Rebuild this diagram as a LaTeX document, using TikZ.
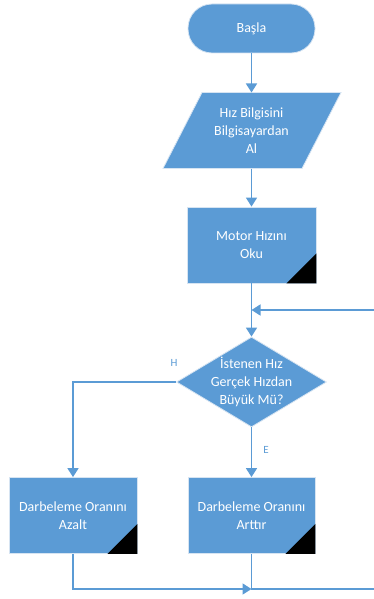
\documentclass[tikz,border=0pt]{standalone}
\usepackage{fontspec}
\setmainfont{Carlito}
\usetikzlibrary{arrows.meta,shapes.geometric}
\definecolor{ofblue}{HTML}{5B9BD5}
\definecolor{ofedge}{HTML}{D6E4F2}
\tikzset{
  shapebase/.style={fill=ofblue, draw=ofedge, line width=0.8pt, inner sep=0pt},
  procbox/.style={shapebase, rectangle, minimum width=128pt, minimum height=76pt},
  termbox/.style={shapebase, rectangle, rounded corners=24pt, minimum width=127pt, minimum height=49pt},
  decbox/.style={shapebase, diamond, minimum width=150pt, minimum height=90pt},
  lbl/.style={text=white, font=\fontsize{14}{18}\selectfont, align=center, inner sep=0pt},
  conn/.style={draw=ofblue, line width=1.6pt, -{Triangle[width=11pt,length=9pt]}},
  plainconn/.style={draw=ofblue, line width=1.6pt},
  branch/.style={text=ofblue, font=\fontsize{11}{13}\selectfont, inner sep=0pt},
}
\begin{document}
\begin{tikzpicture}[x=1pt,y=-1pt]
\useasboundingbox (0,0) rectangle (374,599);
% start
\node[termbox] (start) at (251.5,28.5) {};
\node[lbl] (startT) at (start.center) {Başla};
% parallelogram
\coordinate (pTL) at (202,92.5);
\coordinate (pTR) at (341,92.5);
\coordinate (pBR) at (302,168.5);
\coordinate (pBL) at (163,168.5);
\path[shapebase] (pTL) -- (pTR) -- (pBR) -- (pBL) -- cycle;
\node[lbl] (input) at (251.5,131) {Hız Bilgisini\\Bilgisayardan\\Al};
\coordinate (inTop) at (251.5,92.5);
\coordinate (inBot) at (251.5,168.5);
% motor
\node[procbox, minimum width=129pt] (motor) at (251.5,245) {};
\node[lbl] (motorT) at (motor.center) {Motor Hızını\\Oku};
\fill[black] (motor.south east) -- ++(-30,0) -- ++(30,-30) -- cycle;
% decision
\node[decbox] (dec) at (251.5,382) {};
\node[lbl] (decT) at (dec.center) {İstenen Hız\\Gerçek Hızdan\\Büyük Mü?};
% boxes
\node[procbox] (dec1) at (73,515.5) {};
\node[lbl] (dec1T) at (dec1.center) {Darbeleme Oranını\\Azalt};
\fill[black] (dec1.south east) -- ++(-30,0) -- ++(30,-30) -- cycle;
\node[procbox, minimum width=127pt] (inc1) at (251.5,515.5) {};
\node[lbl] (inc1T) at (inc1.center) {Darbeleme Oranını\\Arttır};
\fill[black] (inc1.south east) -- ++(-30,0) -- ++(30,-30) -- cycle;
% connectors
\draw[conn] (start.south) -- (inTop);
\draw[conn] (inBot) -- (motor.north);
\coordinate (loopJ) at (251.5,310);
\coordinate (loopR) at (374,310);
\draw[conn] (motor.south) -- (dec.north);
\draw[conn] (loopR) -- (loopJ);
\coordinate (hCorner) at (73,382);
\draw[conn] (dec.west) -- (hCorner) -- (dec1.north);
\draw[conn] (dec.south) -- (inc1.north);
\node[branch] (hlbl) at (174,363) {H};
\node[branch] (elbl) at (266,450) {E};
% merge
\coordinate (mL) at (73,589);
\coordinate (mJ) at (251.5,589);
\coordinate (mR) at (374,589);
\draw[conn] (dec1.south) -- (mL) -- (mJ);
\draw[plainconn] (inc1.south) -- (mJ) -- (mR);
\end{tikzpicture}
\end{document}
